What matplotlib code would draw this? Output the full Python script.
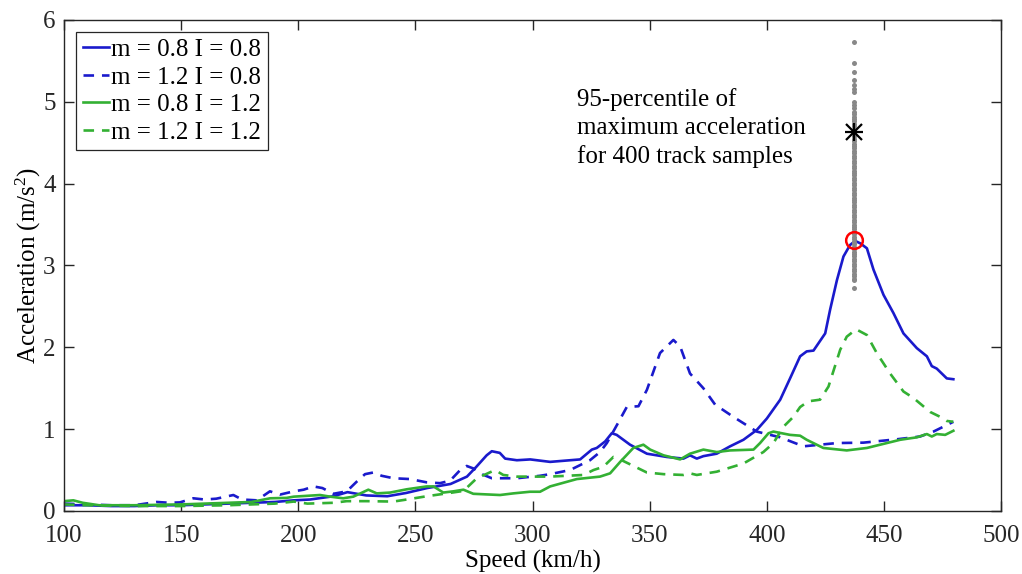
import numpy as np
import matplotlib
matplotlib.use('Agg')
import matplotlib.pyplot as plt

plt.rcParams['font.family'] = ['Liberation Serif', 'DejaVu Serif']
plt.rcParams['mathtext.fontset'] = 'custom'
plt.rcParams['mathtext.rm'] = 'Liberation Serif'
plt.rcParams['mathtext.it'] = 'Liberation Serif:italic'

# m = 0.8 I = 0.8 (blue solid)
speed_a = [100, 110, 120, 130, 140, 150, 160, 170, 180, 190, 198, 205, 215, 221, 225, 229, 238, 246,
           255, 265, 272, 276, 280.4, 282.6, 286, 288.3, 293.3, 299, 307.5, 320.3, 325.3, 327.4, 331,
           333.8, 335.9, 341.6, 348.8, 357.3, 364.4, 367.2, 370.1, 372.9, 378.6, 384.3, 390, 395.7,
           400, 405.7, 409.9, 414.2, 417, 419.9, 424.9, 427, 429.9, 432.7, 435.5, 437.7, 439.9, 442.7,
           445.5, 449.8, 454, 458.3, 464, 468.3, 470.4, 472.5, 476.8, 479.6]
acc_a = [0.07, 0.07, 0.06, 0.06, 0.07, 0.07, 0.08, 0.09, 0.10, 0.11, 0.13, 0.14, 0.18, 0.23, 0.21,
         0.19, 0.18, 0.22, 0.28, 0.33, 0.42, 0.54, 0.68, 0.73, 0.71, 0.64, 0.62, 0.63, 0.60, 0.63, 0.75,
         0.77, 0.85, 0.95, 0.93, 0.81, 0.70, 0.66, 0.64, 0.68, 0.64, 0.67, 0.70, 0.79, 0.87, 0.99, 1.13,
         1.36, 1.62, 1.89, 1.95, 1.96, 2.17, 2.46, 2.82, 3.11, 3.25, 3.30, 3.27, 3.21, 2.95, 2.64, 2.42,
         2.17, 1.99, 1.89, 1.77, 1.74, 1.62, 1.61]

# m = 1.2 I = 0.8 (blue dashed)
speed_b = [100, 110, 120, 130, 139.6, 145, 149.5, 155.2, 160, 165, 172.3, 176, 182.3, 187.9, 192.2,
           198.1, 202.3, 206.5, 210.3, 215, 220.7, 225, 228.5, 232, 235.6, 240.6, 247.7, 254.8, 260.5,
           264.8, 269.1, 271.9, 274.7, 278.3, 282.6, 293.3, 303.2, 307.5, 316, 324.5, 328.8, 331.7, 336,
           340.2, 345.2, 348.8, 354.4, 360.1, 363, 367.2, 372.9, 377.9, 385.7, 395.7, 405.7, 415.6,
           429.9, 441.2, 455.5, 465.4, 471.1, 479.6]
acc_b = [0.09, 0.08, 0.07, 0.07, 0.11, 0.10, 0.105, 0.155, 0.14, 0.15, 0.195, 0.14, 0.13, 0.24, 0.20,
         0.24, 0.26, 0.30, 0.28, 0.21, 0.24, 0.36, 0.45, 0.47, 0.43, 0.40, 0.39, 0.35, 0.34, 0.37, 0.50,
         0.55, 0.52, 0.45, 0.40, 0.40, 0.43, 0.45, 0.50, 0.62, 0.72, 0.83, 1.05, 1.27, 1.28, 1.48, 1.93,
         2.09, 2.01, 1.68, 1.50, 1.30, 1.15, 0.97, 0.90, 0.79, 0.83, 0.835, 0.876, 0.91, 0.97, 1.09]

# m = 0.8 I = 1.2 (green solid)
speed_c = [100, 104, 108, 115, 130, 150, 170, 180, 188, 195, 198.1, 209.3, 213.6, 219.2, 223.5, 229.9,
           233.5, 239.2, 246.3, 254.8, 257.7, 261.9, 266.2, 270.5, 274.7, 286.1, 291.8, 298.9, 303.2,
           307.5, 318.9, 328.8, 333.1, 337.4, 343, 347.3, 350.2, 355.9, 363, 367.2, 372.9, 378.6, 384.3,
           394.3, 397.1, 400.7, 402.8, 409.9, 414.2, 417, 424.1, 434.1, 442.7, 449.8, 456.9, 464, 468.3,
           470.4, 472.5, 476.1, 479.6]
acc_c = [0.12, 0.13, 0.10, 0.07, 0.07, 0.08, 0.10, 0.11, 0.155, 0.16, 0.175, 0.195, 0.175, 0.155,
         0.175, 0.26, 0.215, 0.225, 0.265, 0.30, 0.30, 0.225, 0.24, 0.26, 0.21, 0.195, 0.215, 0.235,
         0.235, 0.30, 0.39, 0.42, 0.46, 0.60, 0.77, 0.81, 0.75, 0.68, 0.63, 0.70, 0.75, 0.72, 0.74, 0.75,
         0.83, 0.95, 0.97, 0.93, 0.92, 0.87, 0.77, 0.74, 0.77, 0.82, 0.87, 0.90, 0.94, 0.91, 0.94, 0.93,
         0.98]

# m = 1.2 I = 1.2 (green dashed)
speed_d = [100, 110, 130, 150, 170, 180, 190, 198.1, 203.9, 215, 220.7, 229.2, 240.6, 246.3, 254.8,
           263.4, 270.5, 276.2, 284, 287.5, 293.3, 307.5, 321.7, 326, 330.2, 334.5, 335.9, 340.2, 348.8,
           355.9, 364.4, 367.2, 370.1, 378.6, 390, 398.5, 402.8, 407.1, 411.3, 414.2, 417.7, 422.7,
           426.3, 431.3, 434.1, 438.1, 442.7, 446.9, 452.6, 458.3, 462.6, 469.7, 474, 476.8, 479.6]
acc_d = [0.08, 0.07, 0.06, 0.06, 0.07, 0.08, 0.09, 0.115, 0.09, 0.10, 0.12, 0.12, 0.115, 0.14, 0.18,
         0.215, 0.245, 0.40, 0.50, 0.44, 0.42, 0.42, 0.44, 0.50, 0.54, 0.66, 0.65, 0.59, 0.47, 0.45,
         0.44, 0.46, 0.44, 0.48, 0.58, 0.72, 0.83, 1.03, 1.15, 1.27, 1.34, 1.36, 1.52, 1.97, 2.13, 2.22,
         2.15, 1.93, 1.68, 1.46, 1.38, 1.21, 1.15, 1.10, 1.09]

# maximum acceleration of the track samples at the peak speed
sample_speed = 437
sample_max = [5.73, 5.48, 5.36, 5.27, 5.20, 5.16, 5.12, 5.00, 4.96, 4.92, 4.88, 4.85, 4.82, 4.79,
              4.76, 4.73, 4.70, 4.67, 4.64, 4.61, 4.58, 4.55, 4.52, 4.49, 4.46, 4.43, 4.40, 4.37,
              4.34, 4.31, 4.28, 4.25, 4.22, 4.19, 4.16, 4.13, 4.10, 4.07, 4.04, 4.01, 3.98, 3.95,
              3.92, 3.89, 3.86, 3.83, 3.80, 3.77, 3.74, 3.71, 3.68, 3.65, 3.62, 3.59, 3.56, 3.53,
              3.50, 3.47, 3.44, 3.41, 3.38, 3.35, 3.32, 3.29, 3.26, 3.23, 3.20, 3.17, 3.14, 3.11,
              3.08, 3.05, 3.02, 2.99, 2.96, 2.93, 2.90, 2.87, 2.84, 2.82, 2.73]
p95 = 4.63
design_peak = 3.31

blue = '#1a1acc'
green = '#33b033'
fs = 18

fig = plt.figure(figsize=(10.22, 5.74), dpi=100)
ax = fig.add_axes([0.0626, 0.1098, 0.917, 0.8554])

ax.plot(speed_a, acc_a, '-', color=blue, lw=1.9, label='m = 0.8 I = 0.8')
ax.plot(speed_b, acc_b, '--', color=blue, lw=1.9, dashes=(4, 3), label='m = 1.2 I = 0.8')
ax.plot(speed_c, acc_c, '-', color=green, lw=1.9, label='m = 0.8 I = 1.2')
ax.plot(speed_d, acc_d, '--', color=green, lw=1.9, dashes=(4, 3), label='m = 1.2 I = 1.2')

ax.plot([sample_speed] * len(sample_max), sample_max, 'o', color='#888888', ms=3.6, mew=0,
        zorder=4)
ax.plot(sample_speed, p95, '+', color='black', ms=13, mew=1.6, zorder=5)
ax.plot(sample_speed, p95, 'x', color='black', ms=11, mew=1.6, zorder=5)
ax.plot(sample_speed, design_peak, 'o', mfc='none', mec='red', ms=12, mew=1.8, zorder=5)

ax.text(319, 5.17, '95-percentile of\nmaximum acceleration\nfor 400 track samples',
        fontsize=fs, ha='left', va='top', linespacing=1.35)

ax.set_xlim(100, 500)
ax.set_ylim(0, 6)
ax.set_xticks(np.arange(100, 501, 50))
ax.set_yticks(np.arange(0, 7, 1))
ax.tick_params(direction='in', length=7, width=1, top=True, right=True, labelsize=fs,
               colors='#262626')
ax.tick_params(axis='x', pad=10)
ax.tick_params(axis='y', pad=6)
for s in ax.spines.values():
    s.set_color('#262626')
    s.set_linewidth(1)

ax.set_xlabel('Speed (km/h)', fontsize=fs, labelpad=2)
ax.set_ylabel('Acceleration (m/s$^2$)', fontsize=fs, labelpad=0)

leg = ax.legend(loc='upper left', fontsize=fs, fancybox=False, framealpha=1, edgecolor='#262626',
                borderaxespad=0.5, handlelength=1.05, handletextpad=0.1, labelspacing=0.2,
                borderpad=0.25)
leg.get_frame().set_linewidth(0.9)

fig.savefig('out.png', dpi=100)
